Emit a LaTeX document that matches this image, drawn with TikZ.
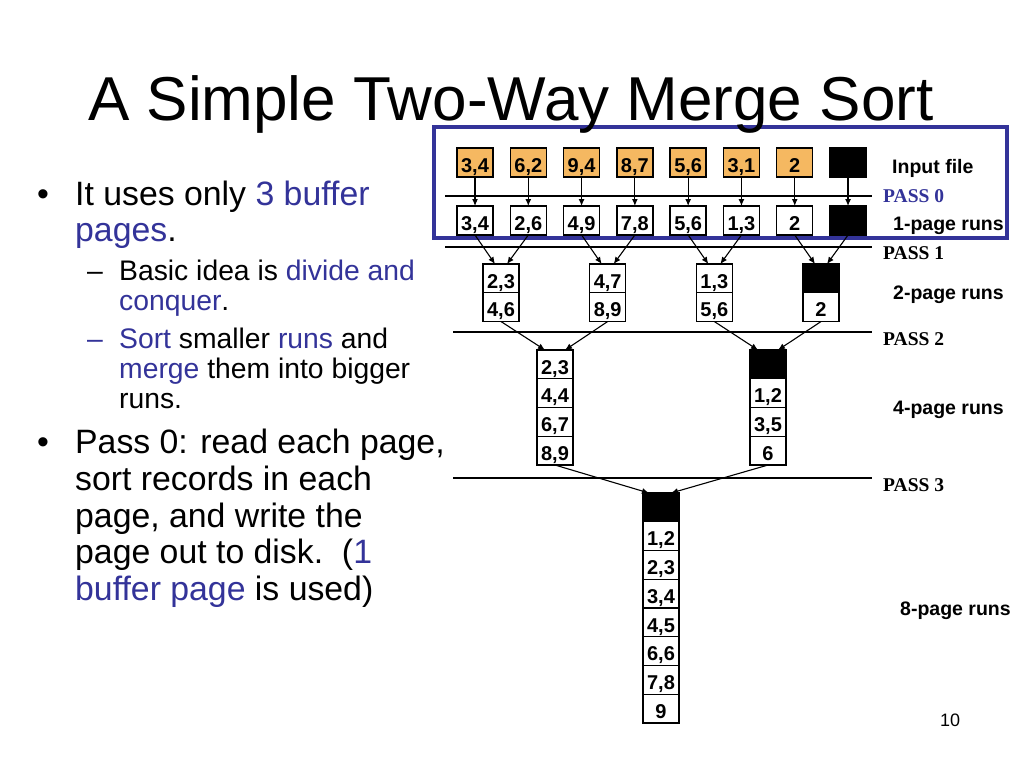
\documentclass[tikz,border=0pt]{standalone}
\usepackage{fontspec}
\setmainfont{Liberation Sans}
\newfontfamily\passfont{Liberation Serif}
\usetikzlibrary{arrows.meta,calc,positioning}
\definecolor{slideblue}{HTML}{333399}
\definecolor{pageorange}{HTML}{F5B861}
\newcommand{\hl}[1]{\textcolor{slideblue}{#1}}
\tikzset{
  page/.style={draw,line width=1.4pt,outer sep=0pt,inner sep=0pt,minimum width=36pt,minimum height=29pt,font=\fontsize{20}{20}\selectfont\bfseries,text height=19.5pt,text depth=0pt},
  inpage/.style={page,fill=pageorange},
  blankpage/.style={page,fill=black},
  cell/.style={page,minimum height=28.75pt},
  blankcell/.style={cell,fill=black},
  mergearrow/.style={-{Latex[length=7pt,width=6pt]},line width=1.1pt},
  passline/.style={line width=1.4pt},
  passlabel/.style={anchor=base west,inner sep=0pt,font=\passfont\fontsize{19.5}{19.5}\selectfont\bfseries},
  runlabel/.style={anchor=base west,inner sep=0pt,font=\fontsize{19.5}{20}\selectfont\bfseries},
  bodytext/.style={anchor=base west,inner sep=0pt,font=\fontsize{33.8}{36}\selectfont},
  subtext/.style={anchor=base west,inner sep=0pt,font=\fontsize{28.3}{30}\selectfont}
}
\begin{document}
\begin{tikzpicture}[x=1pt,y=-1pt]
\useasboundingbox (0,0) rectangle (1024,768);
\fill[white] (0,0) rectangle (1024,768);

\draw[slideblue,line width=4pt] (434,127) rectangle (1007,238);

\node[anchor=base west,inner sep=0pt,font=\fontsize{62}{62}\selectfont] (title) at (88,120) {A Simple Two-Way Merge Sort};

\node[bodytext] (dot1) at (37,205) {•};
\node[bodytext] (l1) at (75,205) {It uses only \hl{3 buffer}};
\node[bodytext] (l2) at (75,241) {\hl{pages}.};
\node[subtext] (dash1) at (87,280) {–};
\node[subtext] (l3) at (119,280) {Basic idea is \hl{divide and}};
\node[subtext] (l4) at (119,310) {\hl{conquer}.};
\node[subtext] (dash2) at (87,348) {\hl{–}};
\node[subtext] (l5) at (119,348) {\hl{Sort} smaller \hl{runs} and};
\node[subtext] (l6) at (119,378) {\hl{merge} them into bigger};
\node[subtext] (l7) at (119,408) {runs.};
\node[bodytext] (dot2) at (37,453) {•};
\node[bodytext] (l8) at (75,453) {Pass 0: read each page,};
\node[bodytext] (l9) at (75,490) {sort records in each};
\node[bodytext] (l10) at (75,527) {page, and write the};
\node[bodytext] (l11) at (75,563) {page out to disk.\ \ (\hl{1}};
\node[bodytext] (l12) at (75,600) {\hl{buffer page} is used)};

\foreach \v [count=\i] in {{3,4},{6,2},{9,4},{8,7},{5,6},{3,1},{2}}
  \node[inpage] (in\i) at ({475+53.29*(\i-1)},162.5) {\v};
\node[blankpage] (in8) at ({475+53.29*7},162.5) {};
\foreach \v [count=\i] in {{3,4},{2,6},{4,9},{7,8},{5,6},{1,3},{2}}
  \node[page] (run\i) at ({475+53.29*(\i-1)},220.5) {\v};
\node[blankpage] (run8) at ({475+53.29*7},220.5) {};
\foreach \i in {1,...,8}
  \draw[mergearrow] (in\i) -- (run\i);

\foreach \a/\b [count=\j] in {{2,3}/{4,6},{4,7}/{8,9},{1,3}/{5,6}} {
  \node[cell] (two\j a) at ({501+106.67*(\j-1)},278.4) {\a};
  \node[cell,below=0pt of two\j a] (two\j b) {\b};
}
\node[blankcell] (two4a) at ({501+106.67*3},278.4) {};
\node[cell,below=0pt of two4a] (two4b) {2};
\foreach \l/\r/\t in {1/2/1,3/4/2,5/6/3,7/8/4} {
  \draw[mergearrow] (run\l.south) -- ([xshift=-6pt]two\t a.north);
  \draw[mergearrow] (run\r.south) -- ([xshift=6pt]two\t a.north);
}

\node[cell] (four1a) at (555,364.4) {2,3};
\node[cell,below=0pt of four1a] (four1b) {4,4};
\node[cell,below=0pt of four1b] (four1c) {6,7};
\node[cell,below=0pt of four1c] (four1d) {8,9};
\node[blankcell] (four2a) at (768,364.4) {};
\node[cell,below=0pt of four2a] (four2b) {1,2};
\node[cell,below=0pt of four2b] (four2c) {3,5};
\node[cell,below=0pt of four2c] (four2d) {6};
\draw[mergearrow] (two1b.south) -- ([xshift=-10pt]four1a.north);
\draw[mergearrow] (two2b.south) -- ([xshift=10pt]four1a.north);
\draw[mergearrow] (two3b.south) -- ([xshift=-10pt]four2a.north);
\draw[mergearrow] (two4b.south) -- ([xshift=10pt]four2a.north);

\node[blankcell] (eight1) at (661,507.4) {};
\foreach \v [count=\k from 2] in {{1,2},{2,3},{3,4},{4,5},{6,6},{7,8},{9}} {
  \pgfmathtruncatemacro\prev{\k-1}
  \node[cell,below=0pt of eight\prev] (eight\k) {\v};
}
\draw[mergearrow] (four1d.south) -- ([xshift=-12pt]eight1.north);
\draw[mergearrow] (four2d.south) -- ([xshift=10pt]eight1.north);

\draw[passline] (445,196) -- (872,196);
\draw[passline] (445,247) -- (872,247);
\draw[passline] (453,332) -- (872,332);
\draw[passline] (453,478) -- (872,478);
\node[passlabel,slideblue] (pass0) at (883,202) {PASS 0};
\node[passlabel] (pass1) at (883,259) {PASS 1};
\node[passlabel] (pass2) at (883,345) {PASS 2};
\node[passlabel] (pass3) at (883,491) {PASS 3};

\node[runlabel] (infile) at (892,173) {Input file};
\node[runlabel] (runs1) at (893,230) {1-page runs};
\node[runlabel] (runs2) at (893,299) {2-page runs};
\node[runlabel] (runs4) at (893,414) {4-page runs};
\node[runlabel] (runs8) at (900,615) {8-page runs};
\node[anchor=base west,inner sep=0pt,font=\fontsize{18}{18}\selectfont] (pageno) at (940,726) {10};
\end{tikzpicture}
\end{document}
